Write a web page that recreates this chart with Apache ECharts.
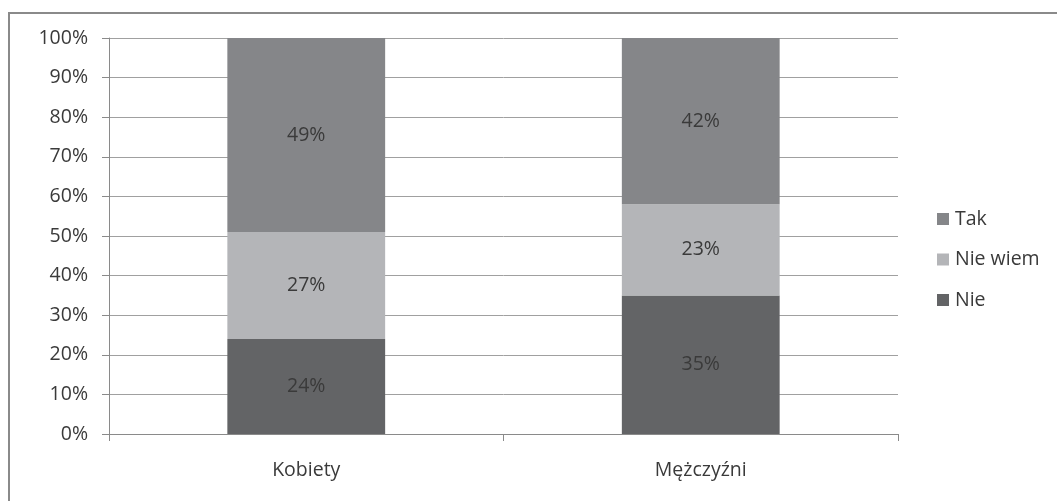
<!DOCTYPE html>
<html>
<head>
<meta charset="utf-8">
<script src="https://cdn.jsdelivr.net/npm/echarts@6/dist/echarts.min.js"></script>
<style>
  html, body { margin: 0; padding: 0; background: #fff; }
  #frame { position: absolute; left: 8px; top: 12px; width: 1049px; height: 489px;
           border-top: 2px solid #8a8a8a; border-left: 2px solid #8a8a8a; }
  #chart { position: absolute; left: 0; top: 0; width: 1057px; height: 501px; }
</style>
</head>
<body>
<div id="frame"></div>
<div id="chart"></div>
<script>
const categories = ['Kobiety', 'Mężczyźni']
const nie = [24, 35]
const nieWiem = [27, 23]
const tak = [49, 42]
const legendOrder = ['Tak', 'Nie wiem', 'Nie']

const font = '"Open Sans", "Noto Sans", sans-serif'
const textColor = '#3a3a3a'
const fontSize = 19.5
const labelStyle = { show: true, position: 'inside', color: textColor, fontSize, fontFamily: font, formatter: '{c}%' }

const makeSeries = (name, data, color) => ({
  name, type: 'bar', stack: 'total', data, barWidth: '40%',
  itemStyle: { color }, label: labelStyle,
})

const chart = echarts.init(document.getElementById('chart'))
chart.setOption({
  animation: false,
  grid: { left: 109, right: 159, top: 38, bottom: 67 },
  legend: {
    data: legendOrder, orient: 'vertical', left: 937, top: 209, padding: 0,
    itemWidth: 12, itemHeight: 12, itemGap: 20.5, icon: 'rect',
    textStyle: { color: textColor, fontSize, fontFamily: font, lineHeight: 20, padding: [0, 0, 0, 1] },
  },
  xAxis: {
    type: 'category', data: categories,
    axisLine: { lineStyle: { color: '#8a8a8a' } },
    axisTick: { show: true, length: 7, lineStyle: { color: '#8a8a8a' } },
    axisLabel: { color: textColor, fontSize, fontFamily: font, margin: 26 },
  },
  yAxis: {
    type: 'value', min: 0, max: 100, interval: 10,
    axisLine: { show: true, lineStyle: { color: '#8a8a8a' } },
    axisTick: { show: true, length: 7, lineStyle: { color: '#8a8a8a' } },
    axisLabel: { color: textColor, fontSize, fontFamily: font, margin: 21, formatter: '{value}%' },
    splitLine: { lineStyle: { color: '#a0a0a0' } },
  },
  series: [
    makeSeries('Nie', nie, '#636466'),
    makeSeries('Nie wiem', nieWiem, '#b4b5b8'),
    makeSeries('Tak', tak, '#858689'),
  ],
})
</script>
</body>
</html>
